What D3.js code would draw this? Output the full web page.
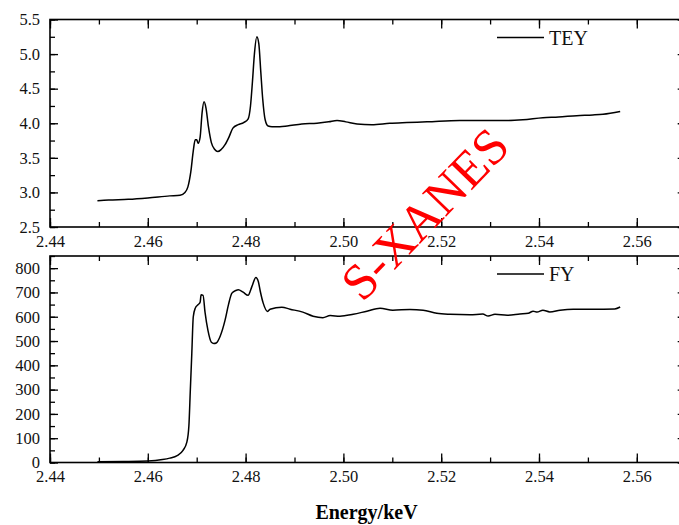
<!DOCTYPE html>
<html>
<head>
<meta charset="utf-8">
<script src="https://cdn.jsdelivr.net/npm/d3@7"></script>
<style>
  body { margin: 0; background: #fff; }
  svg { display: block; }
  .axis line { stroke: #000; stroke-width: 1.3; }
  .axis path { display: none; }
</style>
</head>
<body>
<div id="chart"></div>
<script>
// TEY (total electron yield) spectrum
var teyEnergy = [2.4497, 2.452, 2.456, 2.460, 2.4645, 2.4666, 2.4676, 2.4682, 2.4688, 2.4693,
  2.4697, 2.4700, 2.4703, 2.4707, 2.4711, 2.4715, 2.4719, 2.4724, 2.4730, 2.4737,
  2.4743, 2.4750, 2.4758, 2.4766, 2.4774, 2.4785, 2.4796, 2.4805, 2.4810, 2.4814,
  2.4818, 2.4823, 2.4827, 2.4831, 2.4835, 2.4840, 2.4846, 2.4854, 2.4870, 2.4885,
  2.4915, 2.4946, 2.4970, 2.4987, 2.5005, 2.5028, 2.5058, 2.5095, 2.5130, 2.5171,
  2.5238, 2.5300, 2.5335, 2.5367, 2.5408, 2.5440, 2.5477, 2.5510, 2.5531, 2.5566];
var teyValues = [2.88, 2.89, 2.90, 2.92, 2.95, 2.96, 3.00, 3.08, 3.30, 3.60,
  3.76, 3.76, 3.71, 3.80, 4.15, 4.31, 4.22, 3.95, 3.72, 3.62,
  3.59, 3.62, 3.69, 3.80, 3.93, 3.98, 4.01, 4.06, 4.25, 4.60,
  5.00, 5.25, 5.15, 4.75, 4.35, 4.05, 3.96, 3.95, 3.95, 3.96,
  3.99, 4.00, 4.02, 4.04, 4.02, 3.99, 3.98, 4.00, 4.01, 4.02,
  4.04, 4.04, 4.04, 4.05, 4.08, 4.09, 4.11, 4.12, 4.13, 4.17];

// FY (fluorescence yield) spectrum
var fyEnergy = [2.4497, 2.455, 2.460, 2.463, 2.4645, 2.466, 2.4672, 2.468, 2.4684, 2.4687,
  2.4690, 2.4693, 2.4697, 2.4703, 2.4707, 2.4709, 2.4713, 2.4717, 2.4723, 2.4730,
  2.4735, 2.4740, 2.4748, 2.4758, 2.4765, 2.4772, 2.4780, 2.4785, 2.4795, 2.4805,
  2.4813, 2.4821, 2.4826, 2.4830, 2.4836, 2.4845, 2.4850, 2.4874, 2.4891, 2.4917,
  2.4938, 2.4958, 2.4973, 2.4993, 2.5020, 2.5048, 2.5075, 2.5101, 2.5136, 2.5163,
  2.5191, 2.5218, 2.5259, 2.5285, 2.5296, 2.5310, 2.5335, 2.5361, 2.5378, 2.5388,
  2.5396, 2.5408, 2.5422, 2.5443, 2.5470, 2.5510, 2.5555, 2.5566];
var fyValues = [3, 4, 6, 12, 18, 28, 50, 85, 150, 300,
  450, 600, 635, 650, 660, 690, 688, 619, 544, 495,
  490, 492, 520, 586, 650, 697, 708, 711, 701, 688,
  725, 762, 745, 705, 656, 622, 631, 639, 631, 619,
  602, 596, 605, 602, 610, 623, 635, 627, 630, 627,
  614, 610, 608, 611, 603, 610, 606, 611, 614, 623,
  619, 627, 620, 627, 631, 631, 632, 640];

var xTicks = [2.44, 2.46, 2.48, 2.50, 2.52, 2.54, 2.56];
var teyTicks = [2.5, 3.0, 3.5, 4.0, 4.5, 5.0, 5.5];
var fyTicks = [0, 100, 200, 300, 400, 500, 600, 700, 800];

var width = 679, height = 525;
var left = 50, right = 685.7;
var serif = 'Liberation Serif, Times New Roman, serif';

var svg = d3.select('#chart').append('svg')
    .attr('width', width)
    .attr('height', height)
    .attr('font-family', serif);

var x = d3.scaleLinear().domain([2.44, 2.57]).range([left, right]);

// d3.axis puts sans-serif / 10px on its group, so override it there
function styleLabels(sel) {
    sel.attr('font-family', serif).attr('font-size', 16.5);
    sel.selectAll('text').attr('fill', '#111');
}

function drawPanel(top, bottom, yDomain, yTicks, yMinor, yFormat, energy, values, label) {
    var y = d3.scaleLinear().domain(yDomain).range([bottom, top]);
    var g = svg.append('g');

    var xMinor = d3.range(2.44, 2.575, 0.01);

    // bottom ticks + labels
    g.append('g').attr('class', 'axis')
        .attr('transform', 'translate(0,' + bottom + ')')
        .call(d3.axisBottom(x).tickValues(xTicks).tickSize(-9).tickPadding(8).tickFormat(d3.format('.2f')))
        .call(styleLabels);
    g.append('g').attr('class', 'axis')
        .attr('transform', 'translate(0,' + bottom + ')')
        .call(d3.axisBottom(x).tickValues(xMinor).tickSize(-5).tickFormat(''));
    // top ticks
    g.append('g').attr('class', 'axis')
        .attr('transform', 'translate(0,' + top + ')')
        .call(d3.axisTop(x).tickValues(xTicks).tickSize(-9).tickFormat(''));
    g.append('g').attr('class', 'axis')
        .attr('transform', 'translate(0,' + top + ')')
        .call(d3.axisTop(x).tickValues(xMinor).tickSize(-5).tickFormat(''));
    // left ticks + labels
    g.append('g').attr('class', 'axis')
        .attr('transform', 'translate(' + left + ',0)')
        .call(d3.axisLeft(y).tickValues(yTicks).tickSize(-8).tickPadding(10).tickFormat(yFormat))
        .call(styleLabels);
    g.append('g').attr('class', 'axis')
        .attr('transform', 'translate(' + left + ',0)')
        .call(d3.axisLeft(y).tickValues(yMinor).tickSize(-5).tickFormat(''));
    // right ticks
    g.append('g').attr('class', 'axis')
        .attr('transform', 'translate(' + right + ',0)')
        .call(d3.axisRight(y).tickValues(yTicks).tickSize(-8).tickFormat(''));
    g.append('g').attr('class', 'axis')
        .attr('transform', 'translate(' + right + ',0)')
        .call(d3.axisRight(y).tickValues(yMinor).tickSize(-5).tickFormat(''));

    g.append('rect')
        .attr('x', left).attr('y', top)
        .attr('width', right - left).attr('height', bottom - top)
        .attr('fill', 'none').attr('stroke', '#000').attr('stroke-width', 1.6);

    var line = d3.line()
        .x(function(d, i) { return x(energy[i]); })
        .y(function(d) { return y(d); })
        .curve(d3.curveMonotoneX);

    g.append('path')
        .datum(values)
        .attr('d', line)
        .attr('fill', 'none')
        .attr('stroke', '#000')
        .attr('stroke-width', 1.5);

    // legend
    var ly = top + 18;
    g.append('line')
        .attr('x1', 497).attr('x2', 544)
        .attr('y1', ly).attr('y2', ly)
        .attr('stroke', '#000').attr('stroke-width', 1.5);
    g.append('text')
        .attr('x', 549).attr('y', ly + 7)
        .attr('font-size', 20)
        .attr('fill', '#111')
        .text(label);
}

drawPanel(19.5, 227, [2.5, 5.5], teyTicks, d3.range(2.5, 5.51, 0.25), d3.format('.1f'),
    teyEnergy, teyValues, 'TEY');
drawPanel(256, 462.5, [0, 850], fyTicks, d3.range(0, 851, 50), d3.format('d'),
    fyEnergy, fyValues, 'FY');

svg.append('text')
    .attr('x', (left + 679) / 2 + 2)
    .attr('y', 519)
    .attr('text-anchor', 'middle')
    .attr('font-size', 20)
    .attr('font-weight', 'bold')
    .text('Energy/keV');

svg.append('text')
    .attr('transform', 'translate(425,214) rotate(-46)')
    .attr('text-anchor', 'middle')
    .attr('dominant-baseline', 'central')
    .attr('font-size', 51)
    .attr('fill', '#ff0000')
    .text('S-XANES');
</script>
</body>
</html>
